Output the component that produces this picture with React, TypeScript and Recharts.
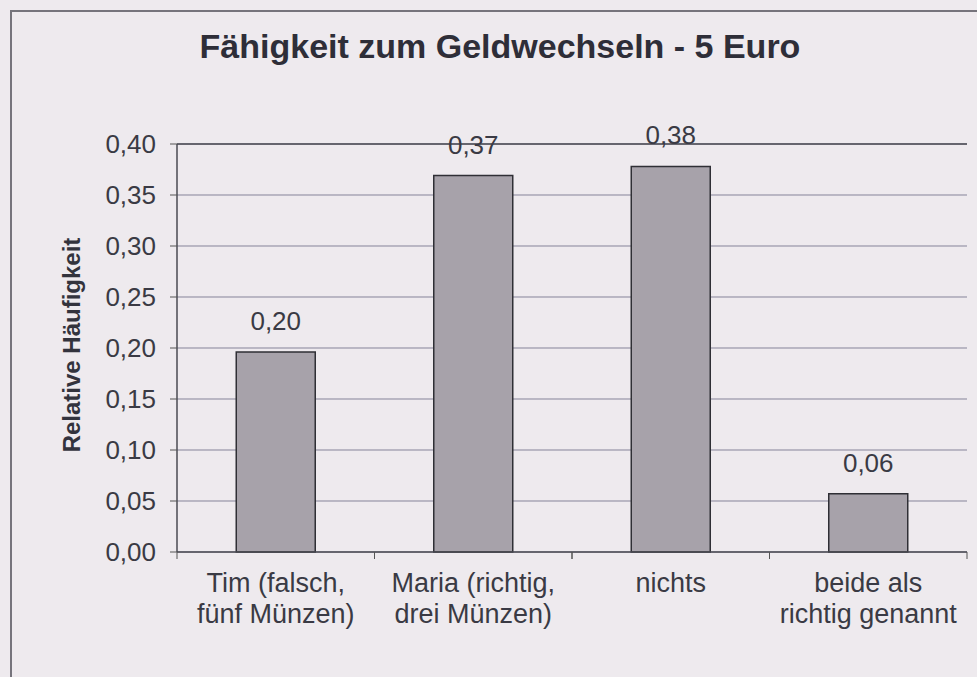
import React from "react";
import {
  BarChart,
  Bar,
  XAxis,
  YAxis,
  CartesianGrid,
  LabelList,
  ReferenceLine,
} from "recharts";

const categories = [
  "Tim (falsch,\nfünf Münzen)",
  "Maria (richtig,\ndrei Münzen)",
  "nichts",
  "beide als\nrichtig genannt",
];
const shares = [0.196, 0.369, 0.378, 0.057];
const yTicks = [0, 0.05, 0.1, 0.15, 0.2, 0.25, 0.3, 0.35, 0.4];

const data = categories.map((name, i) => ({ name, value: shares[i] }));

const comma = (v: number) => Number(v).toFixed(2).replace(".", ",");

const textColor = "#3a3a44";
const font = "'Liberation Sans', Arial, sans-serif";

function CategoryTick(props: any) {
  const { x, y, payload } = props;
  const lines = String(payload.value).split("\n");
  const half = payload.offset || 0;
  return (
    <g>
      {half > 0 && (
        <>
          <line x1={x - half} x2={x - half} y1={y} y2={y + 7} stroke="#555" />
          <line x1={x + half} x2={x + half} y1={y} y2={y + 7} stroke="#555" />
        </>
      )}
      <text textAnchor="middle" fontSize={27} fill={textColor} fontFamily={font}>
        {lines.map((l, i) => (
          <tspan key={i} x={x} y={y + 40 + i * 31}>
            {l}
          </tspan>
        ))}
      </text>
    </g>
  );
}

export default function App() {
  return (
    <div
      style={{
        position: "relative",
        width: 977,
        height: 677,
        background: "#eeeaee",
        overflow: "hidden",
        fontFamily: font,
      }}
    >
      <style>{`body{margin:0}`}</style>
      <div
        style={{
          position: "absolute",
          left: 10,
          top: 10,
          width: 1000,
          height: 700,
          borderLeft: "2px solid #76747c",
          borderTop: "2px solid #76747c",
        }}
      />
      <div
        style={{
          position: "absolute",
          left: 0,
          width: 1000,
          top: 27,
          textAlign: "center",
          fontSize: 34,
          fontWeight: "bold",
          color: "#2e2e38",
        }}
      >
        Fähigkeit zum Geldwechseln - 5 Euro
      </div>
      <div
        style={{
          position: "absolute",
          left: 72,
          top: 345,
          transform: "translate(-50%, -50%) rotate(-90deg)",
          whiteSpace: "nowrap",
          fontSize: 24,
          fontWeight: "bold",
          color: "#33333d",
        }}
      >
        Relative Häufigkeit
      </div>
      <BarChart
        width={977}
        height={677}
        data={data}
        margin={{ top: 144, right: 10, bottom: 35, left: 107 }}
        barCategoryGap="30%"
        style={{ position: "absolute", left: 0, top: 0 }}
      >
        <CartesianGrid vertical={false} stroke="#858399" strokeWidth={1} />
        <XAxis
          dataKey="name"
          height={90}
          interval={0}
          tickSize={0}
          tickMargin={0}
          tickLine={false}
          axisLine={{ stroke: "#4a4a52", strokeWidth: 1.5 }}
          tick={<CategoryTick />}
        />
        <YAxis
          width={70}
          domain={[0, 0.4]}
          ticks={yTicks}
          interval={0}
          tickSize={7}
          tickMargin={14}
          tickFormatter={comma}
          tick={{ fontSize: 26, fill: textColor, fontFamily: font }}
          tickLine={{ stroke: "#555" }}
          axisLine={{ stroke: "#4a4a52", strokeWidth: 1.5 }}
        />
        <YAxis
          yAxisId="right"
          orientation="right"
          width={0}
          tick={false}
          tickLine={false}
          axisLine={{ stroke: "#4a4a52", strokeWidth: 1.5 }}
        />
        <ReferenceLine y={0.4} stroke="#4a4a52" strokeWidth={1.5} />
        <Bar
          dataKey="value"
          fill="#a7a2aa"
          stroke="#2f2f35"
          strokeWidth={1.5}
          isAnimationActive={false}
        >
          <LabelList
            dataKey="value"
            position="top"
            offset={22}
            formatter={(v: any) => comma(v)}
            style={{ fontSize: 26, fill: textColor, fontFamily: font }}
          />
        </Bar>
      </BarChart>
    </div>
  );
}
